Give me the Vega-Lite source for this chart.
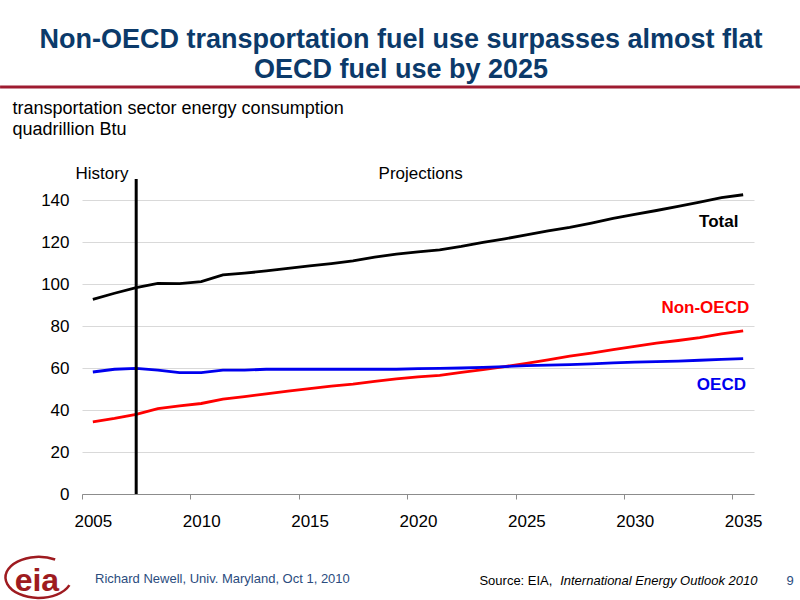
{
  "$schema": "https://vega.github.io/schema/vega-lite/v6.json",
  "width": 672,
  "height": 315,
  "autosize": "none",
  "padding": {"left": 82, "top": 179, "right": 46, "bottom": 106},
  "background": "white",
  "config": {
    "view": {"stroke": null},
    "font": "Liberation Sans",
    "axis": {"labelFont": "Liberation Sans", "titleFont": "Liberation Sans"}
  },
  "title": {
    "text": ["Non-OECD transportation fuel use surpasses almost flat", "OECD fuel use by 2025"],
    "font": "Liberation Sans Narrow, Liberation Sans",
    "fontSize": 27,
    "fontWeight": "bold",
    "color": "#0b3a6a",
    "lineHeight": 30,
    "anchor": "middle",
    "frame": "group",
    "dx": -17,
    "dy": 6,
    "offset": 8
  },
  "data": {
    "values": [
      {"year": 2005, "Total": 92.7, "Non-OECD": 34.4, "OECD": 58.1},
      {"year": 2006, "Total": 95.6, "Non-OECD": 36.0, "OECD": 59.4},
      {"year": 2007, "Total": 98.3, "Non-OECD": 37.9, "OECD": 59.8},
      {"year": 2008, "Total": 100.3, "Non-OECD": 40.7, "OECD": 59.0},
      {"year": 2009, "Total": 100.2, "Non-OECD": 42.0, "OECD": 57.8},
      {"year": 2010, "Total": 101.1, "Non-OECD": 43.1, "OECD": 57.8},
      {"year": 2011, "Total": 104.3, "Non-OECD": 45.2, "OECD": 59.0},
      {"year": 2012, "Total": 105.2, "Non-OECD": 46.4, "OECD": 59.0},
      {"year": 2013, "Total": 106.2, "Non-OECD": 47.7, "OECD": 59.4},
      {"year": 2014, "Total": 107.4, "Non-OECD": 49.0, "OECD": 59.4},
      {"year": 2015, "Total": 108.6, "Non-OECD": 50.2, "OECD": 59.4},
      {"year": 2016, "Total": 109.7, "Non-OECD": 51.4, "OECD": 59.4},
      {"year": 2017, "Total": 111.0, "Non-OECD": 52.3, "OECD": 59.4},
      {"year": 2018, "Total": 112.8, "Non-OECD": 53.6, "OECD": 59.4},
      {"year": 2019, "Total": 114.2, "Non-OECD": 54.8, "OECD": 59.4},
      {"year": 2020, "Total": 115.3, "Non-OECD": 55.8, "OECD": 59.7},
      {"year": 2021, "Total": 116.3, "Non-OECD": 56.5, "OECD": 59.8},
      {"year": 2022, "Total": 117.9, "Non-OECD": 57.9, "OECD": 60.0},
      {"year": 2023, "Total": 119.8, "Non-OECD": 59.2, "OECD": 60.3},
      {"year": 2024, "Total": 121.5, "Non-OECD": 60.7, "OECD": 60.7},
      {"year": 2025, "Total": 123.4, "Non-OECD": 62.2, "OECD": 61.1},
      {"year": 2026, "Total": 125.3, "Non-OECD": 63.9, "OECD": 61.4},
      {"year": 2027, "Total": 127.0, "Non-OECD": 65.6, "OECD": 61.6},
      {"year": 2028, "Total": 129.0, "Non-OECD": 67.1, "OECD": 62.0},
      {"year": 2029, "Total": 131.2, "Non-OECD": 68.7, "OECD": 62.4},
      {"year": 2030, "Total": 133.1, "Non-OECD": 70.3, "OECD": 62.8},
      {"year": 2031, "Total": 135.0, "Non-OECD": 71.8, "OECD": 63.0},
      {"year": 2032, "Total": 137.0, "Non-OECD": 73.1, "OECD": 63.3},
      {"year": 2033, "Total": 139.0, "Non-OECD": 74.5, "OECD": 63.7},
      {"year": 2034, "Total": 141.1, "Non-OECD": 76.3, "OECD": 64.1},
      {"year": 2035, "Total": 142.5, "Non-OECD": 77.7, "OECD": 64.5}
    ]
  },
  "layer": [
    {
      "transform": [{"fold": ["Total", "Non-OECD", "OECD"], "as": ["series", "value"]}],
      "mark": {"type": "line", "strokeWidth": 2.8},
      "encoding": {
        "x": {
          "field": "year",
          "type": "quantitative",
          "scale": {"domain": [2004.5, 2035.5], "nice": false, "zero": false},
          "axis": {
            "title": null,
            "values": [2004.5, 2009.5, 2014.5, 2019.5, 2024.5, 2029.5, 2034.5],
            "labelExpr": "format(datum.value + 0.5, 'd')",
            "labelOffset": 10.84,
            "labelFlush": false,
            "labelFontSize": 17,
            "labelColor": "#000000",
            "labelPadding": 14,
            "tickSize": 5,
            "tickColor": "#8c8c8c",
            "domainColor": "#8c8c8c",
            "grid": false
          }
        },
        "y": {
          "field": "value",
          "type": "quantitative",
          "scale": {"domain": [0, 150], "nice": false},
          "axis": {
            "title": ["transportation sector energy consumption", "quadrillion Btu"],
            "titleAngle": 0,
            "titleAlign": "left",
            "titleBaseline": "alphabetic",
            "titleX": -70,
            "titleY": -66,
            "titleFontSize": 18,
            "titleFontWeight": "normal",
            "titleColor": "#000000",
            "titleLineHeight": 21,
            "values": [0, 20, 40, 60, 80, 100, 120, 140],
            "labelFontSize": 17,
            "labelColor": "#000000",
            "labelPadding": 13,
            "ticks": false,
            "domain": false,
            "grid": true,
            "gridColor": "#d9d9d9",
            "gridWidth": 1
          }
        },
        "color": {
          "field": "series",
          "type": "nominal",
          "scale": {"domain": ["Total", "Non-OECD", "OECD"], "range": ["#000000", "#ff0000", "#0000ee"]},
          "legend": null
        }
      }
    },
    {
      "data": {"values": [{}]},
      "mark": {"type": "rule", "color": "#000000", "strokeWidth": 3},
      "encoding": {
        "x": {"datum": 2007, "type": "quantitative"},
        "y": {"datum": 0, "type": "quantitative"},
        "y2": {"datum": 150}
      }
    },
    {
      "data": {"values": [{}]},
      "mark": {"type": "rule", "color": "#9e1b30", "strokeWidth": 3},
      "encoding": {
        "x": {"datum": 2000.72, "type": "quantitative"},
        "x2": {"datum": 2037.62},
        "y": {"datum": 193.8, "type": "quantitative"}
      }
    },
    {
      "data": {"values": [{}]},
      "mark": {"type": "text", "text": "History", "fontSize": 17, "align": "center", "baseline": "alphabetic", "color": "#000000"},
      "encoding": {
        "x": {"datum": 2005.42, "type": "quantitative"},
        "y": {"datum": 150, "type": "quantitative"}
      }
    },
    {
      "data": {"values": [{}]},
      "mark": {"type": "text", "text": "Projections", "fontSize": 17, "align": "center", "baseline": "alphabetic", "color": "#000000"},
      "encoding": {
        "x": {"datum": 2020.12, "type": "quantitative"},
        "y": {"datum": 150, "type": "quantitative"}
      }
    },
    {
      "data": {"values": [{}]},
      "mark": {"type": "text", "text": "Total", "fontSize": 17, "fontWeight": "bold", "align": "right", "baseline": "middle", "color": "#000000"},
      "encoding": {
        "x": {"datum": 2034.78, "type": "quantitative"},
        "y": {"datum": 129.7, "type": "quantitative"}
      }
    },
    {
      "data": {"values": [{}]},
      "mark": {"type": "text", "text": "Non-OECD", "fontSize": 17, "fontWeight": "bold", "align": "right", "baseline": "middle", "color": "#ff0000"},
      "encoding": {
        "x": {"datum": 2035.28, "type": "quantitative"},
        "y": {"datum": 88.7, "type": "quantitative"}
      }
    },
    {
      "data": {"values": [{}]},
      "mark": {"type": "text", "text": "OECD", "fontSize": 17, "fontWeight": "bold", "align": "right", "baseline": "middle", "color": "#0000ee"},
      "encoding": {
        "x": {"datum": 2035.13, "type": "quantitative"},
        "y": {"datum": 51.9, "type": "quantitative"}
      }
    },
    {
      "data": {"values": [{}]},
      "mark": {"type": "point", "shape": "M 0.55 -0.62 A 1 0.62 0 1 0 0.98 0.15", "size": 4400, "filled": false, "stroke": "#9e1b20", "strokeWidth": 2.5, "opacity": 1},
      "encoding": {
        "x": {"datum": 2002.42, "type": "quantitative"},
        "y": {"datum": -41, "type": "quantitative"}
      }
    },
    {
      "data": {"values": [{}]},
      "mark": {"type": "text", "text": "eia", "fontSize": 32, "fontWeight": "bold", "align": "center", "baseline": "middle", "color": "#9e1b20"},
      "encoding": {
        "x": {"datum": 2002.42, "type": "quantitative"},
        "y": {"datum": -41.5, "type": "quantitative"}
      }
    },
    {
      "data": {"values": [{}]},
      "mark": {"type": "text", "text": "Richard Newell, Univ. Maryland, Oct 1, 2010", "fontSize": 13, "align": "left", "baseline": "alphabetic", "color": "#2b4c7e"},
      "encoding": {
        "x": {"datum": 2005.1, "type": "quantitative"},
        "y": {"datum": -42.4, "type": "quantitative"}
      }
    },
    {
      "data": {"values": [{}]},
      "mark": {"type": "text", "text": "Source:  EIA,", "fontSize": 13, "align": "right", "baseline": "alphabetic", "color": "#000000"},
      "encoding": {
        "x": {"datum": 2026.2, "type": "quantitative"},
        "y": {"datum": -43.3, "type": "quantitative"}
      }
    },
    {
      "data": {"values": [{}]},
      "mark": {"type": "text", "text": "International Energy Outlook 2010", "fontSize": 13, "fontStyle": "italic", "align": "right", "baseline": "alphabetic", "color": "#000000"},
      "encoding": {
        "x": {"datum": 2035.66, "type": "quantitative"},
        "y": {"datum": -43.3, "type": "quantitative"}
      }
    },
    {
      "data": {"values": [{}]},
      "mark": {"type": "text", "text": "9", "fontSize": 13, "align": "center", "baseline": "alphabetic", "color": "#2b4c7e"},
      "encoding": {
        "x": {"datum": 2037.16, "type": "quantitative"},
        "y": {"datum": -43.3, "type": "quantitative"}
      }
    }
  ]
}
